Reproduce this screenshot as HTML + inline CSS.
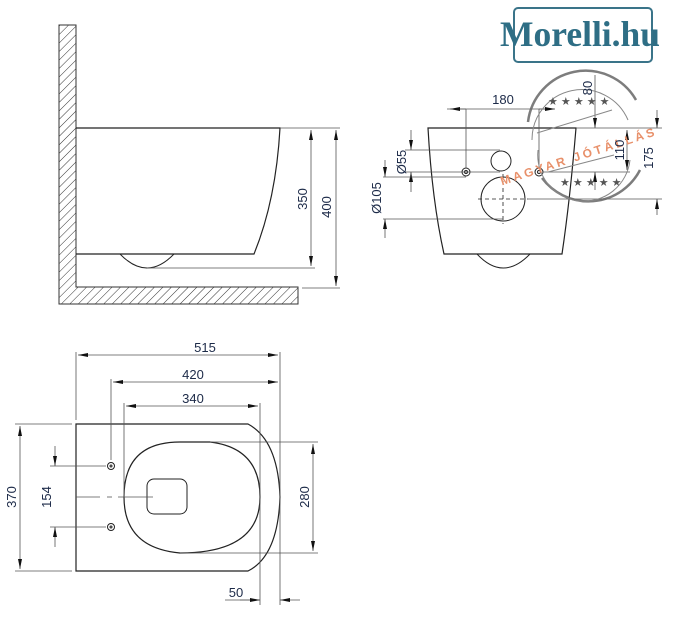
<!DOCTYPE html>
<html><head><meta charset="utf-8"><style>html,body{margin:0;padding:0;background:#fff}svg{display:block}</style></head>
<body>
<svg width="675" height="623" viewBox="0 0 675 623" xmlns="http://www.w3.org/2000/svg" font-family="Liberation Sans, sans-serif">
<defs>
<pattern id="h" width="6" height="6" patternUnits="userSpaceOnUse" patternTransform="rotate(45)">
<line x1="0" y1="0" x2="0" y2="6" stroke="#333" stroke-width="1"/></pattern>
<marker id="a" markerWidth="10" markerHeight="6" refX="10" refY="3" orient="auto-start-reverse" markerUnits="userSpaceOnUse"><path d="M0,1 L10,3 L0,5 Z" fill="#111"/></marker>
</defs>
<g stroke="#222" fill="none" stroke-width="1">
<!-- wall -->
<path d="M59,25 H76 V287 H298 V304 H59 Z" fill="url(#h)" stroke="#333"/>
<!-- side bowl -->
<path d="M76,128 H280 Q276,200 254,254 H76" stroke-width="1.2"/>
<path d="M120,254 Q147,282 174,254"/>
<g stroke="#555" stroke-width="0.8">
<line x1="280" y1="128" x2="340" y2="128"/>
<line x1="147" y1="268" x2="315" y2="268"/>
<line x1="302" y1="288" x2="340" y2="288"/>
<line x1="311" y1="130" x2="311" y2="266" marker-start="url(#a)" marker-end="url(#a)"/>
<line x1="336" y1="130" x2="336" y2="286" marker-start="url(#a)" marker-end="url(#a)"/>
</g>
<!-- front view -->
<path d="M428,128 H576 Q570,200 562,254 H444 Q432,200 428,128 Z" stroke-width="1.2"/>
<path d="M477,254 Q503,282 530,254"/>
<circle cx="501" cy="161" r="10"/>
<circle cx="466" cy="172" r="4"/><circle cx="466" cy="172" r="1.5"/>
<circle cx="539" cy="172" r="4"/><circle cx="539" cy="172" r="1.5"/>
<circle cx="503" cy="199" r="22"/>
<g stroke-dasharray="4,3" stroke-width="0.8"><line x1="478" y1="199" x2="528" y2="199"/><line x1="503" y1="174" x2="503" y2="224"/></g>
<g stroke="#555" stroke-width="0.8">
<line x1="447" y1="109" x2="550" y2="109"/>
<line x1="466" y1="109" x2="466" y2="168"/><line x1="539" y1="109" x2="539" y2="168"/>
<line x1="466" y1="109" x2="450" y2="109" marker-end="url(#a)"/>
<line x1="539" y1="109" x2="555" y2="109" marker-end="url(#a)"/>
<line x1="405" y1="150" x2="500" y2="150"/><line x1="405" y1="172" x2="500" y2="172"/>
<line x1="411" y1="130" x2="411" y2="150" marker-end="url(#a)"/>
<line x1="411" y1="192" x2="411" y2="172" marker-end="url(#a)"/>
<line x1="383" y1="177" x2="466" y2="177"/><line x1="383" y1="219" x2="503" y2="219"/>
<line x1="385" y1="160" x2="385" y2="177" marker-end="url(#a)"/>
<line x1="385" y1="238" x2="385" y2="219" marker-end="url(#a)"/>
<line x1="576" y1="128" x2="662" y2="128"/>
<line x1="543" y1="172" x2="630" y2="172"/>
<line x1="528" y1="199" x2="662" y2="199"/>
<line x1="595" y1="75" x2="595" y2="128" marker-end="url(#a)"/>
<line x1="595" y1="190" x2="595" y2="172" marker-end="url(#a)"/>
<line x1="627" y1="130" x2="627" y2="170" marker-start="url(#a)" marker-end="url(#a)"/>
<line x1="657" y1="110" x2="657" y2="128" marker-end="url(#a)"/>
<line x1="657" y1="215" x2="657" y2="199" marker-end="url(#a)"/>
</g>
<!-- watermark -->
<g stroke="#666" stroke-width="2.5" opacity="0.85">
<path d="M528,122 A58,58 0 0 1 636,100"/>
<path d="M542,178 A58,58 0 0 0 640,170"/>
</g>
<g stroke="#888" stroke-width="1"><path d="M532,140 A50,50 0 0 1 628,120"/><path d="M538,150 A46,46 0 0 0 630,160"/>
<line x1="537" y1="133" x2="612" y2="110"/><line x1="548" y1="172" x2="614" y2="155"/></g>
<!-- top view -->
<path d="M76,424 H248 Q278,440 280,497 Q278,556 248,571 H76 Z" stroke-width="1.2"/>
<path d="M180,442 H210 Q260,448 260,497 Q260,553 180,553 Q124,548 124,497 Q124,442 180,442 Z" stroke-width="1.2"/>
<rect x="147" y="479" width="40" height="35" rx="7"/>
<circle cx="111" cy="466" r="3.5"/><circle cx="111" cy="466" r="1"/>
<circle cx="111" cy="527" r="3.5"/><circle cx="111" cy="527" r="1"/>
<g stroke="#555" stroke-width="0.8">
<line x1="76" y1="352" x2="76" y2="420"/>
<line x1="280" y1="352" x2="280" y2="605"/>
<line x1="111" y1="379" x2="111" y2="460"/>
<line x1="124" y1="403" x2="124" y2="497"/>
<line x1="260" y1="403" x2="260" y2="605"/>
<line x1="78" y1="355" x2="278" y2="355" marker-start="url(#a)" marker-end="url(#a)"/>
<line x1="113" y1="382" x2="278" y2="382" marker-start="url(#a)" marker-end="url(#a)"/>
<line x1="126" y1="406" x2="258" y2="406" marker-start="url(#a)" marker-end="url(#a)"/>
<line x1="15" y1="424" x2="72" y2="424"/><line x1="15" y1="571" x2="72" y2="571"/>
<line x1="20" y1="426" x2="20" y2="569" marker-start="url(#a)" marker-end="url(#a)"/>
<line x1="50" y1="466" x2="106" y2="466"/><line x1="50" y1="527" x2="106" y2="527"/>
<line x1="55" y1="446" x2="55" y2="466" marker-end="url(#a)"/>
<line x1="55" y1="547" x2="55" y2="527" marker-end="url(#a)"/>
<line x1="210" y1="442" x2="318" y2="442"/><line x1="180" y1="553" x2="318" y2="553"/>
<line x1="313" y1="444" x2="313" y2="551" marker-start="url(#a)" marker-end="url(#a)"/>
<line x1="225" y1="600" x2="260" y2="600"/>
<line x1="240" y1="600" x2="260" y2="600" marker-end="url(#a)"/>
<line x1="300" y1="600" x2="280" y2="600" marker-end="url(#a)"/>
<line x1="76" y1="497" x2="100" y2="497"/><line x1="107" y1="497" x2="112" y2="497"/><line x1="118" y1="497" x2="153" y2="497"/>
</g>
</g>
<!-- logo -->
<rect x="514" y="8" width="138" height="54" rx="4" fill="none" stroke="#3a7489" stroke-width="2"/>
<text x="580" y="46" text-anchor="middle" font-family="Liberation Serif, serif" font-size="36" font-weight="bold" fill="#2e6e85" textLength="160" lengthAdjust="spacingAndGlyphs">Morelli.hu</text>
<text x="580" y="160" text-anchor="middle" font-size="12" font-weight="bold" fill="#e8906a" letter-spacing="3" transform="rotate(-18 580 160)">MAGYAR JÓTÁLLÁS</text>
<g fill="#555" font-size="11"><text x="548" y="105">★ ★ ★ ★ ★</text><text x="560" y="186">★ ★ ★ ★ ★</text></g>
<!-- labels -->
<g fill="#1c2a48" font-size="13" text-anchor="middle">
<text x="503" y="104">180</text>
<text x="205" y="352">515</text>
<text x="193" y="379">420</text>
<text x="193" y="403">340</text>
<text x="236" y="597">50</text>
<text transform="translate(307,199) rotate(-90)">350</text>
<text transform="translate(331,207) rotate(-90)">400</text>
<text transform="translate(406,162) rotate(-90)">Ø55</text>
<text transform="translate(381,198) rotate(-90)">Ø105</text>
<text transform="translate(592,88) rotate(-90)">80</text>
<text transform="translate(624,150) rotate(-90)">110</text>
<text transform="translate(653,158) rotate(-90)">175</text>
<text transform="translate(16,497) rotate(-90)">370</text>
<text transform="translate(51,497) rotate(-90)">154</text>
<text transform="translate(309,497) rotate(-90)">280</text>
</g>
</svg>
</body></html>
